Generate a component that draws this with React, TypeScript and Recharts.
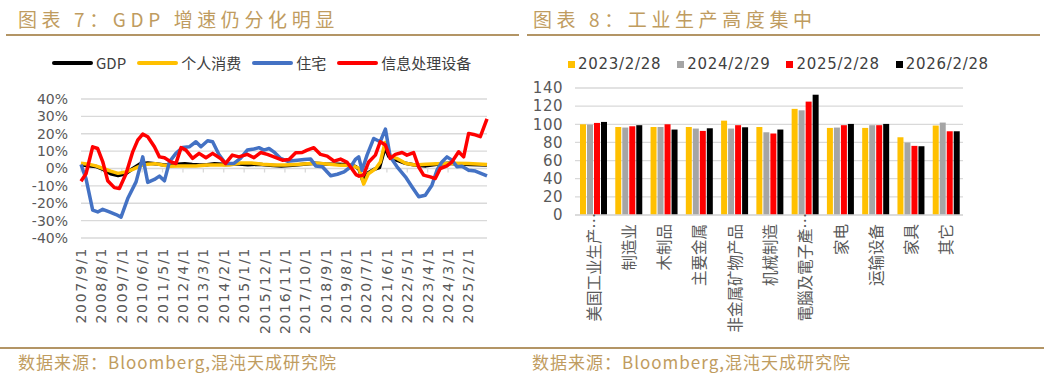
import React from "react"
import { LineChart, Line, BarChart, Bar, XAxis, YAxis, CartesianGrid, ReferenceLine } from "recharts"

// left chart: month index 0 = 2007/9/1
const dateTickLabels = [
  "2007/9/1", "2008/8/1", "2009/7/1", "2010/6/1", "2011/5/1", "2012/4/1", "2013/3/1",
  "2014/2/1", "2015/1/1", "2015/12/1", "2016/11/1", "2017/10/1", "2018/9/1", "2019/8/1",
  "2020/7/1", "2021/6/1", "2022/5/1", "2023/4/1", "2024/3/1", "2025/2/1",
]
const pctTicks = [-40, -30, -20, -10, 0, 10, 20, 30, 40]

const gdpSeries: [number, number][] = [
  [0, 2.2], [4, 1.6], [8, 1.2], [12, -0.5], [16, -3], [20, -4], [24, -3], [28, 0], [32, 2.8],
  [36, 3.2], [40, 2.8], [44, 2.2], [48, 1.8], [52, 2.5], [56, 2.8], [60, 2.3], [64, 2], [68, 2.2],
  [72, 2.8], [78, 2.3], [84, 2.7], [90, 2.2], [96, 2.5], [102, 1.8], [108, 1.5], [114, 1.8],
  [120, 2.5], [126, 3], [132, 2.6], [138, 2.5], [144, 2.2], [148, 1.2], [150, -0.5], [152, -7],
  [155, -2.5], [158, -0.5], [161, 0.5], [164, 12], [166, 7], [168, 5.5], [171, 4.5], [175, 3],
  [180, 2], [186, 1.5], [192, 2.5], [198, 3], [204, 2.6], [210, 2.3], [215, 2.2], [219, 2],
]
const consumptionSeries: [number, number][] = [
  [0, 3], [4, 2.5], [8, 1.5], [12, 0], [16, -1.5], [20, -2.8], [24, -2], [28, -0.5], [32, 1.5],
  [36, 2.5], [40, 2.8], [44, 2], [48, 1.3], [52, 1.5], [56, 1.5], [62, 1.5], [68, 2], [74, 2],
  [80, 2], [86, 3.2], [92, 3.2], [98, 2.5], [104, 2], [110, 2], [116, 2.3], [122, 2.7], [128, 3],
  [134, 2.5], [140, 1.8], [146, 1.9], [150, 0], [152.5, -9], [155, -3], [159, 0], [161.5, 3.8],
  [164, 15], [167, 6.7], [170.5, 5.8], [175, 3], [180, 2], [186, 2.5], [192, 2.8], [200, 3],
  [209, 2.9], [219, 2.3],
]
const housingSeries: [number, number][] = [
  [0, 2.3], [2.7, -5.8], [6.3, -24], [9, -25], [11.7, -23.5], [15.3, -25], [18.9, -26.5],
  [21.6, -28], [25.2, -17.3], [29.7, -7.7], [33.3, 6.7], [36, -8], [39.6, -6.3], [42.3, -4.4],
  [45, -7.1], [47.7, 3.8], [51.2, 8.7], [54.8, 12.1], [58.4, 12.5], [62, 15.4], [64.7, 12.5],
  [68.3, 16], [71, 15.4], [74.4, 8.1], [78, 2.9], [82.5, 2.9], [86, 5.8], [89.7, 10.6],
  [93.3, 11.2], [96, 12], [98.7, 10.6], [101.4, 11.5], [104, 9.6], [107.7, 5.8], [111.3, 4.2],
  [116.7, 4.8], [120.3, 5.2], [123.9, 5.4], [126.6, 1.5], [130.2, 1], [134.7, -4.2], [138.3, -3.3],
  [141.9, -1.9], [145.5, 1], [148, 5.2], [149.8, 6.7], [151.6, -1], [154.3, 7.7], [157.9, 17.3],
  [161.4, 15.4], [164.2, 22.7], [166.8, 6.7], [170.5, 1], [175, -4.8], [178.6, -10.6],
  [182.2, -16.3], [185.7, -15.4], [189.3, -9.6], [192, -1], [194.7, 3.8], [197.4, 6.7],
  [200.1, 4.8], [202.8, 1], [205.5, 1.3], [209.1, -1], [212.7, -1.5], [219, -4.2],
]
const infoEquipSeries: [number, number][] = [
  [0, -7.3], [2.7, -3], [6.3, 12.5], [9, 11.5], [11.7, 4], [14.4, -7], [18, -11], [20.7, -11.5],
  [24.3, -3], [27.9, 9.6], [30.6, 16.3], [33.3, 19.8], [36, 18.3], [39.6, 12.5], [42.3, 6.7],
  [45, 6.2], [48.5, 3.8], [51.2, 2.9], [54, 12], [56.6, 10.6], [60.2, 5.8], [63.7, 8.7],
  [67.4, 6.2], [71, 8.7], [75.3, 5.8], [78, 2.9], [81.6, 7.7], [85.2, 6.7], [89.7, 8.1],
  [93.3, 6.2], [96.9, 9.2], [100.5, 8.1], [104.1, 6.7], [108.6, 4.8], [112.2, 5.2], [115.8, 9],
  [119.3, 9.2], [122, 10.6], [125.6, 12], [129.2, 8.1], [132.8, 7.1], [136.5, 4.2], [140, 5.4],
  [143.6, 3.5], [146.3, -0.4], [148.3, -3.5], [150, -4.4], [152.4, -3.8], [155.2, 3.8],
  [158.8, 7.7], [161.4, 15.4], [164.2, 13.5], [166.8, 5.8], [169.6, 8.1], [173.2, 9.2],
  [175.8, 7.7], [179.4, 9.2], [182.1, 1], [184.8, -3.8], [188.4, -4.8], [191.1, -5.8],
  [193.8, 0], [197.4, 1.5], [200.1, 3.8], [203.7, 9.6], [206.4, 6.7], [209.1, 20.2],
  [211.8, 19.6], [215.4, 18.3], [219, 28.5],
]

// right chart
const industries = [
  "美国工业生产…", "制造业", "木制品", "主要金属", "非金属矿物产品", "机械制造",
  "電腦及電子產…", "家电", "运输设备", "家具", "其它",
]
const v20230228 = [100, 97, 97, 97, 104, 97, 117, 96, 96, 85.7, 98.6]
const v20240229 = [99.7, 96.4, 97, 95.3, 95.3, 91.2, 115.4, 96.4, 99, 79.9, 101.9]
const v20250228 = [101.5, 97.8, 100, 92.7, 99, 89.8, 125, 99, 99, 76.2, 92.3]
const v20260228 = [102.6, 99, 94.2, 95.6, 96.7, 94.2, 132.6, 100.4, 100.4, 75.8, 92.3]
const barTicks = [0, 20, 40, 60, 80, 100, 120, 140]

const lineLegend = [
  { label: "GDP", color: "#000000" },
  { label: "个人消费", color: "#FFC000" },
  { label: "住宅", color: "#4472C4" },
  { label: "信息处理设备", color: "#FF0000" },
]
const barLegend = [
  { key: "a", label: "2023/2/28", color: "#FFC000" },
  { key: "b", label: "2024/2/29", color: "#A5A5A5" },
  { key: "c", label: "2025/2/28", color: "#FF0000" },
  { key: "d", label: "2026/2/28", color: "#000000" },
]

const monthIndex = (label: string) => {
  const [y, m] = label.split("/").map(Number)
  return (y - 2007) * 12 + (m - 9)
}
const xTickMonths = dateTickLabels.map(monthIndex)
const toPoints = (s: [number, number][]) => s.map(([m, v]) => ({ m, v }))

const barData = industries.map((name, i) => ({
  name,
  a: v20230228[i],
  b: v20240229[i],
  c: v20250228[i],
  d: v20260228[i],
}))

const TAN = "#BF9C60"
const RULE = "#B39565"
const GRID = "#D9D9D9"
const TICK = "#595959"
const LATIN = "'DejaVu Sans', 'Noto Sans CJK SC', sans-serif"
const CJK = "'Noto Sans CJK SC', sans-serif"

const DateTick = ({ x, y, payload }: any) => {
  const label = dateTickLabels[xTickMonths.indexOf(payload.value)] ?? ""
  return (
    <text x={x} y={y} transform={`rotate(-90, ${x}, ${y})`} textAnchor="end" dominantBaseline="central"
      fill={TICK} fontSize={14} fontFamily={LATIN} letterSpacing={1.7}>
      {label}
    </text>
  )
}

const CatTick = ({ x, y, payload }: any) => {
  const t = String(payload.value)
  const yy = t.endsWith("…") ? y - 11 : y
  return (
    <text x={x} y={yy} transform={`rotate(-90, ${x}, ${yy})`} textAnchor="end" dominantBaseline="central"
      fill={TICK} fontSize={15.5} fontFamily={CJK}>
      {t}
    </text>
  )
}

const titleStyle: React.CSSProperties = {
  position: "absolute", top: 6, fontSize: 19, letterSpacing: 4.6, color: TAN, fontFamily: CJK, lineHeight: "26px",
}
const sourceStyle: React.CSSProperties = {
  position: "absolute", top: 351, fontSize: 17, letterSpacing: 1, color: TAN, fontFamily: CJK, lineHeight: "22px",
}

export default function App() {
  return (
    <div style={{ position: "absolute", left: 0, top: 0, width: 1044, height: 383, background: "#fff", overflow: "hidden" }}>
      <div style={{ position: "absolute", left: 0, top: 0 }}>
        <LineChart width={520} height={348} margin={{ top: 99, right: 33, bottom: 0, left: 0 }} style={{ overflow: "visible" }}>
          <CartesianGrid vertical={false} stroke={GRID} strokeWidth={1.3} />
          <XAxis type="number" dataKey="m" domain={[0, 219]} ticks={xTickMonths} interval={0}
            axisLine={false} tickLine={false} tickMargin={3} height={110} tick={(p: any) => <DateTick {...p} />} />
          <YAxis type="number" domain={[-40, 40]} ticks={pctTicks} interval={0} width={81}
            axisLine={false} tickLine={false} tickMargin={7} tickFormatter={(v) => `${v}%`}
            tick={{ fill: TICK, fontSize: 14, fontFamily: LATIN }} />
          {xTickMonths.map((m) => (
            <ReferenceLine key={`t-${m}`} segment={[{ x: m, y: 0 }, { x: m, y: -2.3 }]} stroke={GRID} strokeWidth={1.3} />
          ))}
          <Line data={toPoints(gdpSeries)} dataKey="v" type="linear" stroke="#000000" strokeWidth={3.5} dot={false} activeDot={false} isAnimationActive={false} strokeLinejoin="round" />
          <Line data={toPoints(consumptionSeries)} dataKey="v" type="linear" stroke="#FFC000" strokeWidth={3.5} dot={false} activeDot={false} isAnimationActive={false} strokeLinejoin="round" />
          <Line data={toPoints(housingSeries)} dataKey="v" type="linear" stroke="#4472C4" strokeWidth={3.5} dot={false} activeDot={false} isAnimationActive={false} strokeLinejoin="round" />
          <Line data={toPoints(infoEquipSeries)} dataKey="v" type="linear" stroke="#FF0000" strokeWidth={3.5} dot={false} activeDot={false} isAnimationActive={false} strokeLinejoin="round" />
        </LineChart>
      </div>

      <div style={{ position: "absolute", left: 520, top: 0 }}>
        <BarChart width={524} height={340} data={barData} margin={{ top: 88, right: 81, bottom: 0, left: 0 }}
          barCategoryGap={5} barGap={1} style={{ overflow: "visible" }}>
          <CartesianGrid vertical={false} stroke={GRID} strokeWidth={1.3} />
          <XAxis dataKey="name" type="category" interval={0} height={125} axisLine={{ stroke: GRID, strokeWidth: 1.3 }}
            tickLine={false} tickMargin={3} tick={(p: any) => <CatTick {...p} />} />
          <YAxis type="number" domain={[0, 140]} ticks={barTicks} interval={0} width={55}
            axisLine={false} tickLine={false} tickMargin={6}
            tick={{ fill: TICK, fontSize: 15, fontFamily: LATIN, letterSpacing: 0.5 } as any} />
          {barLegend.map((s) => (
            <Bar key={s.key} dataKey={s.key} name={s.label} fill={s.color} isAnimationActive={false} />
          ))}
        </BarChart>
      </div>

      {/* titles and rules */}
      <div style={{ ...titleStyle, left: 18 }}>图表 7：GDP 增速仍分化明显</div>
      <div style={{ ...titleStyle, left: 533 }}>图表 8：工业生产高度集中</div>
      <div style={{ position: "absolute", left: 6, top: 34, width: 513, height: 1.5, background: RULE }} />
      <div style={{ position: "absolute", left: 527, top: 34, width: 513, height: 1.5, background: RULE }} />
      <div style={{ position: "absolute", left: 0, top: 347, width: 1044, height: 1.5, background: RULE }} />

      {/* legends */}
      <div style={{ position: "absolute", left: 52, top: 54, display: "flex", alignItems: "center", gap: 11, fontFamily: CJK, fontSize: 15, color: "#404040", lineHeight: "18px" }}>
        {lineLegend.map((it) => (
          <div key={it.label} style={{ display: "flex", alignItems: "center", gap: 3 }}>
            <span style={{ display: "inline-block", width: 41, height: 4, borderRadius: 2, background: it.color }} />
            <span>{it.label}</span>
          </div>
        ))}
      </div>
      <div style={{ position: "absolute", left: 568, top: 55, display: "flex", alignItems: "center", gap: 16, fontFamily: LATIN, fontSize: 15, letterSpacing: 0.7, color: "#404040", lineHeight: "18px" }}>
        {barLegend.map((it) => (
          <div key={it.key} style={{ display: "flex", alignItems: "center", gap: 3 }}>
            <span style={{ display: "inline-block", width: 7, height: 7, background: it.color }} />
            <span>{it.label}</span>
          </div>
        ))}
      </div>

      {/* sources */}
      <div style={{ ...sourceStyle, left: 18 }}>数据来源：Bloomberg,混沌天成研究院</div>
      <div style={{ ...sourceStyle, left: 532 }}>数据来源：Bloomberg,混沌天成研究院</div>
    </div>
  )
}
